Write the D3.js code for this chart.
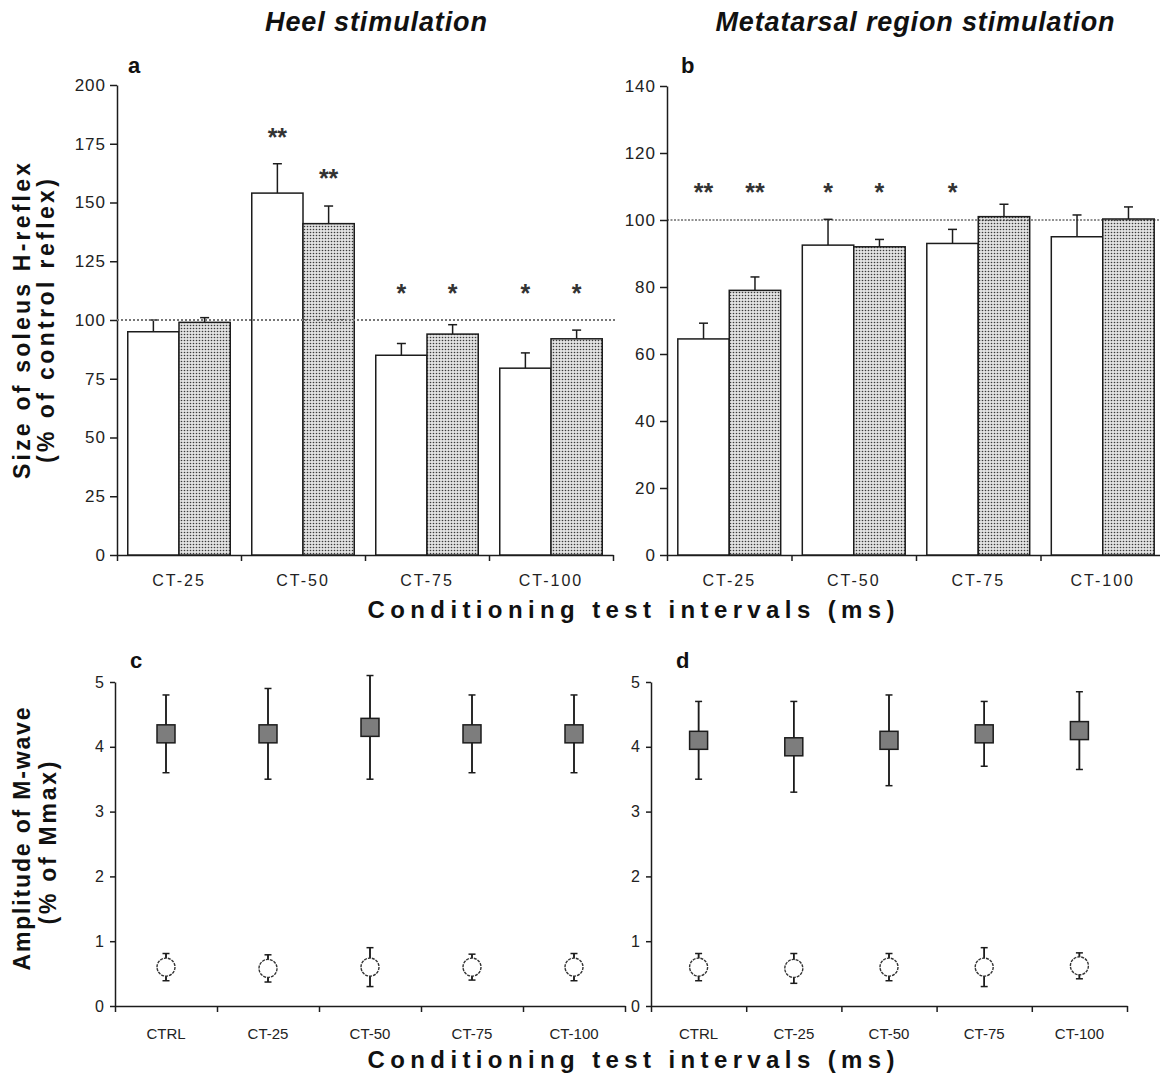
<!DOCTYPE html>
<html>
<head>
<meta charset="utf-8">
<script src="https://cdnjs.cloudflare.com/ajax/libs/d3/7.8.5/d3.min.js"></script>
<style>
  body { margin: 0; background: #fff; }
  text { font-family: "Liberation Sans", Arial, sans-serif; }
</style>
</head>
<body>
<script>
// values
var barCats = ["CT-25", "CT-50", "CT-75", "CT-100"];

// a: heel stimulation
var heelOpen = [95, 154, 85, 79.5];
var heelOpenErr = [5, 12.5, 5, 6.5];
var heelDotted = [99, 141, 94, 92];
var heelDottedErr = [2, 7.5, 4, 3.7];
var heelStarsOpen = ["", "**", "*", "*"];
var heelStarsDotted = ["", "**", "*", "*"];
var heelStarLevelOpen = [0, 180, 113.5, 113.5];
var heelStarLevelDotted = [0, 162.5, 113.5, 113.5];
var heelTicks = [0, 25, 50, 75, 100, 125, 150, 175, 200];

// b: metatarsal region stimulation
var metaOpen = [64.5, 92.5, 93, 95];
var metaOpenErr = [4.7, 7.7, 4.2, 6.5];
var metaDotted = [79, 92, 101, 100.3];
var metaDottedErr = [4, 2.2, 3.7, 3.6];
var metaStarsOpen = ["**", "*", "*", ""];
var metaStarsDotted = ["**", "*", "", ""];
var metaStarLevel = [110, 110, 110, 110];
var metaTicks = [0, 20, 40, 60, 80, 100, 120, 140];

// c / d: M-wave
var mCats = ["CTRL", "CT-25", "CT-50", "CT-75", "CT-100"];
var heelTest = [4.2, 4.2, 4.3, 4.2, 4.2];
var heelTestErr = [0.6, 0.7, 0.8, 0.6, 0.6];
var heelCond = [0.6, 0.58, 0.6, 0.6, 0.6];
var heelCondErr = [0.21, 0.21, 0.3, 0.2, 0.21];
var metaTest = [4.1, 4.0, 4.1, 4.2, 4.25];
var metaTestErr = [0.6, 0.7, 0.7, 0.5, 0.6];
var metaCond = [0.6, 0.58, 0.6, 0.6, 0.62];
var metaCondErr = [0.21, 0.23, 0.21, 0.3, 0.2];
var mTicks = [0, 1, 2, 3, 4, 5];


var svg = d3.select("body")
  .append("svg")
    .attr("width", 1160)
    .attr("height", 1075);

// dotted fill for the second bar of each pair
var pat = svg.append("defs")
  .append("pattern")
    .attr("id", "dots")
    .attr("width", 3)
    .attr("height", 3)
    .attr("patternUnits", "userSpaceOnUse");
pat.append("rect").attr("width", 3).attr("height", 3).attr("fill", "#e2e2e2");
pat.append("circle").attr("cx", 1.5).attr("cy", 1.5).attr("r", 0.8).attr("fill", "#3a3a3a");

var ink = "#1c1c1c";

function styleAxis(g, size, spacing) {
  g.attr("font-size", size);
  g.select(".domain").attr("stroke", ink).attr("stroke-width", 1.5);
  g.selectAll(".tick line").attr("stroke", ink).attr("stroke-width", 1.5);
  g.selectAll("text")
    .attr("font-family", "Liberation Sans, Arial, sans-serif")
    .attr("font-size", size)
    .attr("letter-spacing", spacing)
    .attr("fill", "#222");
}

function bottomAxis(box, cats, size, spacing, pad) {
  var x = d3.scaleBand().domain(cats).range([box.x0, box.x1]);
  var xt = d3.scaleLinear().domain([0, cats.length]).range([box.x0, box.x1]);

  var gt = svg.append("g")
    .attr("transform", "translate(0," + box.y0 + ")")
    .call(d3.axisBottom(xt).tickValues(d3.range(cats.length + 1)).tickFormat("").tickSize(6).tickSizeOuter(0));
  styleAxis(gt, size, spacing);

  var gl = svg.append("g")
    .attr("transform", "translate(0," + box.y0 + ")")
    .call(d3.axisBottom(x).tickSize(0).tickPadding(pad));
  gl.select(".domain").remove();
  styleAxis(gl, size, spacing);
  return x;
}

function errBar(g, cx, yLo, yHi, cap) {
  g.append("line")
    .attr("x1", cx).attr("x2", cx)
    .attr("y1", yLo).attr("y2", yHi)
    .attr("stroke", ink).attr("stroke-width", 1.5);
  g.append("line")
    .attr("x1", cx - cap / 2).attr("x2", cx + cap / 2)
    .attr("y1", yHi).attr("y2", yHi)
    .attr("stroke", ink).attr("stroke-width", 1.5);
}

function makeBarPanel(box, d) {
  var y = d3.scaleLinear().domain([0, d.max]).range([box.y0, box.y1]);

  var gy = svg.append("g")
    .attr("transform", "translate(" + box.x0 + ",0)")
    .call(d3.axisLeft(y).tickValues(d.ticks).tickSize(7).tickSizeOuter(0).tickPadding(4));
  styleAxis(gy, 17, 1);

  var x = bottomAxis(box, barCats, 16, 2, 20);
  var xs = d3.scaleBand().domain([0, 1]).range([0, x.bandwidth()]).paddingOuter(0.21);

  var series = [
    {vals: d.open, err: d.openErr, fill: "#fff", stars: d.starsOpen, lvl: d.lvlOpen},
    {vals: d.dotted, err: d.dottedErr, fill: "url(#dots)", stars: d.starsDotted, lvl: d.lvlDotted}
  ];

  var g = svg.append("g");
  series.forEach(function(s, si) {
    barCats.forEach(function(c, i) {
      var bx = x(c) + xs(si);
      var cx = bx + xs.bandwidth() / 2;
      errBar(g, cx, y(s.vals[i]), y(s.vals[i] + s.err[i]), 9);
      g.append("rect")
        .attr("x", bx)
        .attr("y", y(s.vals[i]))
        .attr("width", xs.bandwidth())
        .attr("height", box.y0 - y(s.vals[i]))
        .attr("fill", s.fill)
        .attr("stroke", ink)
        .attr("stroke-width", 1.5);
      if (s.stars[i]) {
        g.append("text")
          .attr("x", cx)
          .attr("y", y(s.lvl[i]))
          .attr("dy", "0.56em")
          .attr("text-anchor", "middle")
          .attr("font-size", 25)
          .attr("font-weight", "bold")
          .attr("fill", "#333")
          .text(s.stars[i]);
      }
    });
  });

  // control level
  g.append("line")
    .attr("x1", box.x0).attr("x2", d.refEnd)
    .attr("y1", y(100)).attr("y2", y(100))
    .attr("stroke", d.refColor)
    .attr("stroke-width", d.refWidth)
    .attr("stroke-dasharray", d.refDash);
}

function makeDotPanel(box, d) {
  var y = d3.scaleLinear().domain([0, 5]).range([box.y0, box.y1]);

  var gy = svg.append("g")
    .attr("transform", "translate(" + box.x0 + ",0)")
    .call(d3.axisLeft(y).tickValues(mTicks).tickFormat(d3.format("d")).tickSize(5).tickSizeOuter(0).tickPadding(6));
  styleAxis(gy, 16, 0);

  var x = bottomAxis(box, mCats, 15, 0, 22);

  var g = svg.append("g");
  mCats.forEach(function(c, i) {
    var cx = x(c) + x.bandwidth() / 2;
    errBar(g, cx, y(d.test[i] - d.testErr[i]), y(d.test[i] + d.testErr[i]), 7);
    errBar(g, cx, y(d.test[i] + d.testErr[i]), y(d.test[i] - d.testErr[i]), 7);
    errBar(g, cx, y(d.cond[i] - d.condErr[i]), y(d.cond[i] + d.condErr[i]), 7);
    errBar(g, cx, y(d.cond[i] + d.condErr[i]), y(d.cond[i] - d.condErr[i]), 7);
    g.append("rect")
      .attr("x", cx - 9)
      .attr("y", y(d.test[i]) - 9)
      .attr("width", 18)
      .attr("height", 18)
      .attr("fill", "#7d7d7d")
      .attr("stroke", ink)
      .attr("stroke-width", 1.5);
    g.append("circle")
      .attr("cx", cx)
      .attr("cy", y(d.cond[i]))
      .attr("r", 9)
      .attr("fill", "#fff")
      .attr("stroke", "#333")
      .attr("stroke-width", 1.4)
      .attr("stroke-dasharray", "3,1");
  });
}

makeBarPanel({x0: 117, x1: 613, y0: 555, y1: 85}, {
  max: 200, ticks: heelTicks,
  open: heelOpen, openErr: heelOpenErr, dotted: heelDotted, dottedErr: heelDottedErr,
  starsOpen: heelStarsOpen, starsDotted: heelStarsDotted,
  lvlOpen: heelStarLevelOpen, lvlDotted: heelStarLevelDotted,
  refEnd: 615, refColor: "#777", refWidth: 2, refDash: "2,2"
});

makeBarPanel({x0: 667, x1: 1165, y0: 555, y1: 86}, {
  max: 140, ticks: metaTicks,
  open: metaOpen, openErr: metaOpenErr, dotted: metaDotted, dottedErr: metaDottedErr,
  starsOpen: metaStarsOpen, starsDotted: metaStarsDotted,
  lvlOpen: metaStarLevel, lvlDotted: metaStarLevel,
  refEnd: 1160, refColor: "#222", refWidth: 1, refDash: "2,1.5"
});

makeDotPanel({x0: 115, x1: 625, y0: 1006, y1: 682}, {
  test: heelTest, testErr: heelTestErr, cond: heelCond, condErr: heelCondErr
});

makeDotPanel({x0: 651, x1: 1127, y0: 1006, y1: 682}, {
  test: metaTest, testErr: metaTestErr, cond: metaCond, condErr: metaCondErr
});

// titles and labels
function label(x, y, txt, size, opts) {
  opts = opts || {};
  var t = svg.append("text")
    .attr("transform", "translate(" + x + "," + y + ")" + (opts.rotate ? " rotate(-90)" : ""))
    .attr("text-anchor", opts.anchor || "middle")
    .attr("font-size", size)
    .attr("font-weight", "bold")
    .attr("font-style", opts.italic ? "italic" : "normal")
    .attr("fill", "#111")
    .text(txt);
  if (opts.dy) t.attr("dy", opts.dy);
  if (opts.len) t.attr("textLength", opts.len).attr("lengthAdjust", "spacing");
  return t;
}

label(376, 31, "Heel stimulation", 27, {italic: true, len: 222});
label(915, 31, "Metatarsal region stimulation", 27, {italic: true, len: 399});

label(128, 73, "a", 22, {anchor: "start"});
label(681, 73, "b", 22, {anchor: "start"});
label(130, 668, "c", 22, {anchor: "start"});
label(676, 668, "d", 22, {anchor: "start"});

label(22, 321, "Size of soleus H-reflex", 23, {rotate: true, dy: "0.35em", len: 316});
label(46, 321, "(% of control reflex)", 23, {rotate: true, dy: "0.35em", len: 284});
label(22, 839, "Amplitude of M-wave", 23, {rotate: true, dy: "0.35em", len: 263});
label(48, 843, "(% of Mmax)", 23, {rotate: true, dy: "0.35em", len: 163});

label(631, 618, "Conditioning test intervals (ms)", 24, {len: 527});
label(631, 1068, "Conditioning test intervals (ms)", 24, {len: 527});
</script>
</body>
</html>
